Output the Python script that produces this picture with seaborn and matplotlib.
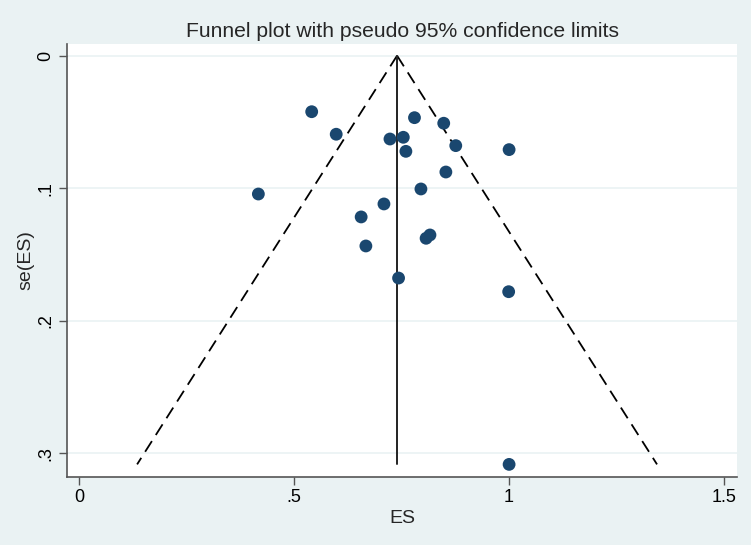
import numpy as np
import pandas as pd
import matplotlib
matplotlib.use("Agg")
import matplotlib.pyplot as plt
import seaborn as sns

# Study effect sizes and standard errors
es = [0.541, 0.598, 0.723, 0.754, 0.760, 0.780, 0.848, 0.876, 1.000, 0.853,
      0.795, 0.417, 0.709, 0.656, 0.816, 0.807, 0.667, 0.743, 0.999, 1.000]
se_es = [0.0423, 0.0593, 0.0629, 0.0616, 0.0722, 0.0468, 0.0510, 0.0679, 0.0709, 0.0878,
         0.1006, 0.1044, 0.1119, 0.1217, 0.1353, 0.1378, 0.1436, 0.1678, 0.1781, 0.3084]
pooled_es = 0.7395
x_ticks = [0, 0.5, 1, 1.5]
x_tick_labels = ["0", ".5", "1", "1.5"]
y_ticks = [0, 0.1, 0.2, 0.3]
y_tick_labels = ["0", ".1", ".2", ".3"]

df = pd.DataFrame({"ES": es, "se": se_es})

BG = "#EAF2F3"
NAVY = "#1A476F"

sns.set_style("white")
plt.rcParams["font.family"] = ["Liberation Sans", "DejaVu Sans"]

fig = plt.figure(figsize=(7.51, 5.45), dpi=100, facecolor=BG)
ax = fig.add_axes([0.0892, 0.1253, 0.9814 - 0.0892, 0.9193 - 0.1253])
ax.set_facecolor("white")

# horizontal grid lines at y ticks
for yt in y_ticks:
    ax.axhline(yt, color=BG, lw=1.2, zorder=0)

# pseudo 95% confidence limits
se_max = df["se"].max()
se_line = np.array([0.0, se_max])
ax.plot(pooled_es - 1.96 * se_line, se_line, color="black", lw=1.3,
        dashes=(7, 4), zorder=2)
ax.plot(pooled_es + 1.96 * se_line, se_line, color="black", lw=1.3,
        dashes=(7, 4), zorder=2)
ax.plot([pooled_es, pooled_es], se_line, color="#222222", lw=1.4, zorder=2)

sns.scatterplot(data=df, x="ES", y="se", ax=ax, color=NAVY, s=85,
                edgecolor="none", zorder=3, legend=False)

ax.set_xlim(-0.028, 1.530)
ax.set_ylim(0.3177, -0.0088)

ax.set_xticks(x_ticks)
ax.set_xticklabels(x_tick_labels)
ax.set_yticks(y_ticks)
ax.set_yticklabels(y_tick_labels, rotation=90, va="center")
ax.tick_params(axis="both", direction="out", length=6, width=1, color="#555555",
               labelsize=13, pad=3, labelcolor="black")
ax.tick_params(axis="both", bottom=True, left=True)

for side in ["top", "right"]:
    ax.spines[side].set_visible(False)
for side in ["left", "bottom"]:
    ax.spines[side].set_color("#555555")
    ax.spines[side].set_linewidth(1.2)

ax.set_xlabel("ES", fontsize=14, labelpad=3)
ax.set_ylabel("se(ES)", fontsize=14, labelpad=2)
ax.set_title("Funnel plot with pseudo 95% confidence limits", fontsize=15.2, pad=5)

fig.savefig("out.png", dpi=100, facecolor=BG)
